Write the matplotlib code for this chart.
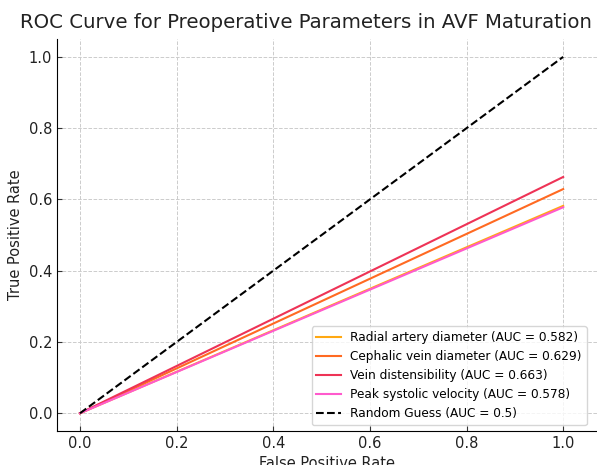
import matplotlib.pyplot as plt
import numpy as np

# ROC end points (straight line from origin)
labels = ["Radial artery diameter", "Cephalic vein diameter",
          "Vein distensibility", "Peak systolic velocity"]
auc = [0.582, 0.629, 0.663, 0.578]
fpr = [0.0, 1.0]
tpr_end = [0.582, 0.629, 0.663, 0.578]
colors = ["#FFA812", "#FF6A22", "#EE3356", "#FF5ACD"]

fig = plt.figure(figsize=(5.97, 4.65), dpi=100)
ax = fig.add_axes([0.0955, 0.073, 0.9045, 0.843])

for lab, a, t, c in zip(labels, auc, tpr_end, colors):
    ax.plot(fpr, [0.0, t], color=c, lw=1.5, label=f"{lab} (AUC = {a:.3f})")
ax.plot([0, 1], [0, 1], color="black", ls="--", lw=1.5, label="Random Guess (AUC = 0.5)")

ax.set_xlim(-0.0476, 1.07)
ax.set_ylim(-0.05, 1.05)
ax.set_xticks(np.arange(0, 1.01, 0.2))
ax.set_yticks(np.arange(0, 1.01, 0.2))
ax.tick_params(direction="in", labelsize=10.5, colors="#333333", labelcolor="#222222")
ax.grid(True, ls="--", color="#cccccc", lw=0.7)
ax.spines["top"].set_visible(False)
ax.spines["right"].set_visible(False)
ax.set_xlabel("False Positive Rate", fontsize=10.5, color="#222222")
ax.set_ylabel("True Positive Rate", fontsize=10.5, color="#222222")
fig.text(0.513, 0.952, "ROC Curve for Preoperative Parameters in AVF Maturation",
         ha="center", va="center", fontsize=14.2, color="#222222")
ax.legend(loc="lower right", fontsize=8.7, bbox_to_anchor=(0.992, 0.0))

fig.savefig("out.png", dpi=100)
